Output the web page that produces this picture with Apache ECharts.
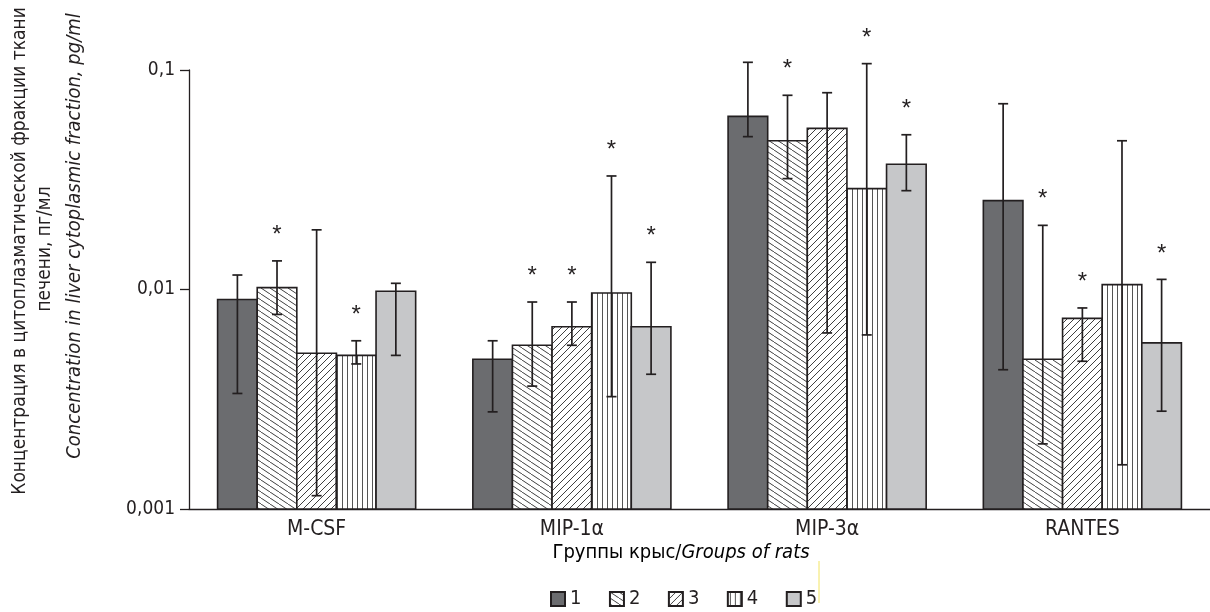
<!DOCTYPE html>
<html>
<head>
<meta charset="utf-8">
<script src="https://cdn.jsdelivr.net/npm/echarts@6/dist/echarts.min.js"></script>
<style>
html,body{margin:0;padding:0;background:#fff;}
#chart{width:1210px;height:612px;}
</style>
</head>
<body>
<div id="chart"></div>
<script>
// ---------- data ----------
const categories = ['M-CSF', 'MIP-1α', 'MIP-3α', 'RANTES'];
const groupNames = ['1', '2', '3', '4', '5'];
const yTickLabels = ['0,001', '0,01', '0,1'];

const g1Values = [0.0090, 0.00481, 0.0615, 0.0254];
const g2Values = [0.0102, 0.00557, 0.0476, 0.00481];
const g3Values = [0.00512, 0.00677, 0.0542, 0.00739];
const g4Values = [0.00501, 0.00964, 0.0288, 0.01052];
const g5Values = [0.00982, 0.00677, 0.0372, 0.00571];

const g1Low  = [0.00336, 0.00277, 0.0497, 0.00431];
const g1High = [0.01164, 0.00584, 0.1084, 0.0702];
const g2Low  = [0.0077, 0.00363, 0.0320, 0.00198];
const g2High = [0.0135, 0.00877, 0.0767, 0.0196];
const g3Low  = [0.00115, 0.00557, 0.00634, 0.00471];
const g3High = [0.0187, 0.00877, 0.0788, 0.00824];
const g4Low  = [0.00458, 0.00325, 0.00621, 0.00159];
const g4High = [0.00584, 0.0329, 0.1069, 0.0476];
const g5Low  = [0.00501, 0.00411, 0.0282, 0.00279];
const g5High = [0.01067, 0.0133, 0.0507, 0.01112];

// significance marks (*)
const g1Sig = [0, 0, 0, 0];
const g2Sig = [1, 1, 1, 1];
const g3Sig = [0, 1, 0, 1];
const g4Sig = [1, 1, 1, 0];
const g5Sig = [0, 1, 1, 1];

const allValues = [g1Values, g2Values, g3Values, g4Values, g5Values];
const allLow = [g1Low, g2Low, g3Low, g4Low, g5Low];
const allHigh = [g1High, g2High, g3High, g4High, g5High];
const allSig = [g1Sig, g2Sig, g3Sig, g4Sig, g5Sig];

// ---------- styles ----------
const INK = '#231f20';
const FONT = "'Liberation Sans Narrow', 'Arial Narrow', 'DejaVu Sans Condensed', sans-serif";

function makePattern(kind) {
  const c = document.createElement('canvas');
  let w, h;
  if (kind === 'back') { w = 9; h = 6; }
  else if (kind === 'fwd') { w = 7; h = 7; }
  else { w = 5; h = 4; }
  c.width = w; c.height = h;
  const ctx = c.getContext('2d');
  ctx.fillStyle = '#ffffff';
  ctx.fillRect(0, 0, w, h);
  ctx.strokeStyle = '#2a2a2a';
  ctx.lineWidth = 0.9;
  ctx.beginPath();
  if (kind === 'back') {
    for (const dx of [-w, 0, w]) {
      ctx.moveTo(dx, 0); ctx.lineTo(dx + w, h);
    }
  } else if (kind === 'fwd') {
    for (const dx of [-w, 0, w]) {
      ctx.moveTo(dx, h); ctx.lineTo(dx + w, 0);
    }
  } else {
    ctx.strokeStyle = '#555';
    ctx.lineWidth = 1;
    ctx.moveTo(2.5, 0); ctx.lineTo(2.5, h);
  }
  ctx.stroke();
  return { image: c, repeat: 'repeat' };
}

const fills = [
  '#6b6c6f',
  makePattern('back'),
  makePattern('fwd'),
  makePattern('vert'),
  '#c6c7c9'
];

const GAP_FRAC = 0.224;

function makeRender(g) {
  return function (params, api) {
    const cat = api.value(0);
    const v = api.value(1), lo = api.value(2), hi = api.value(3), sig = api.value(4);
    const p0 = api.coord([0, v]);
    const p1 = api.coord([1, v]);
    const catW = p1[0] - p0[0];
    const barW = catW * (1 - GAP_FRAC) / 5;
    const top = api.coord([cat, v]);
    const base = api.coord([cat, 0.001]);
    const x0 = top[0] - 2.5 * barW + g * barW;
    const xc = x0 + barW / 2;
    const yHi = api.coord([cat, hi])[1];
    const yLo = api.coord([cat, lo])[1];
    const cap = 5;
    const children = [
      { type: 'rect', shape: { x: x0, y: top[1], width: barW, height: base[1] - top[1] },
        style: { fill: fills[g], stroke: INK, lineWidth: 1.6 } },
      { type: 'line', shape: { x1: xc, y1: yHi, x2: xc, y2: yLo }, style: { stroke: INK, lineWidth: 1.7 } },
      { type: 'line', shape: { x1: xc - cap, y1: yHi, x2: xc + cap, y2: yHi }, style: { stroke: INK, lineWidth: 1.7 } },
      { type: 'line', shape: { x1: xc - cap, y1: yLo, x2: xc + cap, y2: yLo }, style: { stroke: INK, lineWidth: 1.7 } }
    ];
    if (sig) {
      children.push({ type: 'text', x: xc, y: yHi - 25.5,
        style: { text: '*', font: "24px 'Liberation Sans', Arial, sans-serif", fill: INK, align: 'center', verticalAlign: 'middle' } });
    }
    return { type: 'group', children: children };
  };
}

const series = groupNames.map((name, g) => ({
  name: name,
  type: 'custom',
  clip: false,
  renderItem: makeRender(g),
  itemStyle: { color: fills[g], borderColor: INK, borderWidth: 1.5 },
  encode: { x: 0, y: 1 },
  data: categories.map((c, i) => [i, allValues[g][i], allLow[g][i], allHigh[g][i], allSig[g][i]])
}));

const chart = echarts.init(document.getElementById('chart'), null, { renderer: 'canvas' });
chart.setOption({
  animation: false,
  backgroundColor: '#ffffff',
  grid: { left: 189, right: 0, top: 70, bottom: 103 },
  xAxis: {
    type: 'category',
    data: categories,
    axisLine: { lineStyle: { color: INK, width: 1.3 } },
    axisTick: { length: 9, lineStyle: { color: INK, width: 1.3 } },
    axisLabel: { color: INK, fontFamily: FONT, fontSize: 21, margin: 10 }
  },
  yAxis: {
    type: 'log',
    logBase: 10,
    min: 0.001,
    max: 0.1,
    interval: 1,
    axisLine: { show: true, lineStyle: { color: INK, width: 1.3 } },
    axisTick: { show: true, length: 9, lineStyle: { color: INK, width: 1.3 } },
    splitLine: { show: false },
    axisLabel: {
      color: INK, fontFamily: FONT, fontSize: 19, margin: 14,
      formatter: function (v) { const e = Math.round(Math.log10(v)); return yTickLabels[e + 3]; }
    }
  },
  legend: {
    data: groupNames,
    left: 545,
    top: 584,
    icon: 'rect',
    itemWidth: 14,
    itemHeight: 14,
    itemGap: 27.5,
    textStyle: { color: INK, fontFamily: FONT, fontSize: 20, padding: [0, 0, 0, 0] }
  },
  graphic: [
    { type: 'text', x: 20, y: 251, rotation: Math.PI / 2,
      style: { text: 'Концентрация в цитоплазматической фракции ткани', font: "19px " + FONT, fill: INK, align: 'center', verticalAlign: 'middle' } },
    { type: 'text', x: 45, y: 249, rotation: Math.PI / 2,
      style: { text: 'печени, пг/мл', font: "19px " + FONT, fill: INK, align: 'center', verticalAlign: 'middle' } },
    { type: 'text', x: 75, y: 236, rotation: Math.PI / 2,
      style: { text: 'Concentration in liver cytoplasmic fraction, pg/ml', font: "italic 20px " + FONT, fill: INK, align: 'center', verticalAlign: 'middle' } },
    { type: 'text', x: 681, y: 553,
      style: {
        text: '{n|Группы крыс/}{i|Groups of rats}',
        align: 'center', verticalAlign: 'middle',
        rich: {
          n: { fontFamily: FONT, fontSize: 20, color: INK },
          i: { fontFamily: FONT, fontSize: 20, fontStyle: 'italic', color: INK }
        }
      } },
    { type: 'line', shape: { x1: 819, y1: 561, x2: 819, y2: 603 }, style: { stroke: '#f2e463', lineWidth: 1 } }
  ],
  series: series
});
</script>
</body>
</html>
